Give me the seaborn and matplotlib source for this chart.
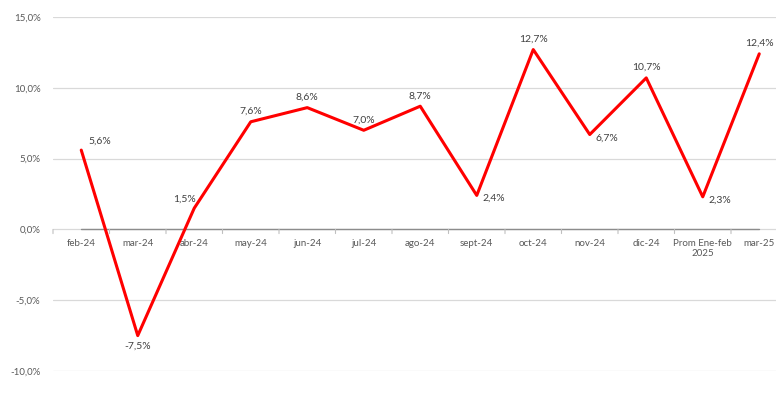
import matplotlib
matplotlib.use("Agg")
import matplotlib.pyplot as plt
import seaborn as sns
import numpy as np

categories = ["feb-24", "mar-24", "abr-24", "may-24", "jun-24", "jul-24", "ago-24",
              "sept-24", "oct-24", "nov-24", "dic-24", "Prom Ene-feb\n2025", "mar-25"]
values = [5.6, -7.5, 1.5, 7.6, 8.6, 7.0, 8.7, 2.4, 12.7, 6.7, 10.7, 2.3, 12.4]
y_ticks = [-10, -5, 0, 5, 10, 15]

# label placement per point: (dx px, dy px, ha, va)
label_pos = {
    0: (7, 4, "left", "bottom"),
    1: (0, -6, "center", "top"),
    2: (-10, 4, "center", "bottom"),
    7: (6, -3, "left", "center"),
    9: (6, -4, "left", "center"),
    11: (6, -3, "left", "center"),
}

sns.set_theme(style="white")
plt.rcParams["font.family"] = ["Lato", "DejaVu Sans"]

fig = plt.figure(figsize=(7.76, 4.09), dpi=100)
W, H = 776, 409
left, right = 53, 787.5
top, bottom = 17, 371
ax = fig.add_axes([left / W, (H - bottom) / H, (right - left) / W, (bottom - top) / H])

x = np.arange(len(categories))
sns.lineplot(x=x, y=values, ax=ax, color="#ff0000", linewidth=2.2, sort=False)

ax.set_xlim(-0.5, len(categories) - 0.5)
ax.set_ylim(-10, 15)

# horizontal gridlines
for t in y_ticks:
    ax.axhline(t, color="#d9d9d9", linewidth=0.9, zorder=0)
ax.plot([0, len(categories) - 1], [0, 0], color="#8c8c8c", linewidth=1.0, zorder=1)

for s in ["top", "right", "left", "bottom"]:
    ax.spines[s].set_visible(False)

ax.set_yticks(y_ticks)
ax.set_yticklabels([f"{t:.1f}%".replace(".", ",") for t in y_ticks],
                   fontsize=7, color="#595959")
ax.tick_params(axis="y", length=0, pad=9)

ax.set_xticks([])
for i, c in enumerate(categories):
    ax.annotate(c, (i, 0), xytext=(0, -7), textcoords="offset points",
                ha="center", va="top", fontsize=7, color="#595959", linespacing=1.1)
for b in np.arange(-0.5, len(categories) - 1, 1.0):
    ax.annotate("", (b, 0), xytext=(0, -3), textcoords="offset points",
                arrowprops=dict(arrowstyle="-", color="#bfbfbf", lw=0.8,
                                shrinkA=0, shrinkB=0))

for i, v in enumerate(values):
    dx, dy, ha, va = label_pos.get(i, (0, 6, "center", "bottom"))
    ax.annotate(f"{v:.1f}%".replace(".", ","), (i, v), xytext=(dx * 0.72, dy * 0.72),
                textcoords="offset points", ha=ha, va=va, fontsize=7.5,
                color="#404040", annotation_clip=False)

fig.savefig("out.png", dpi=100)
